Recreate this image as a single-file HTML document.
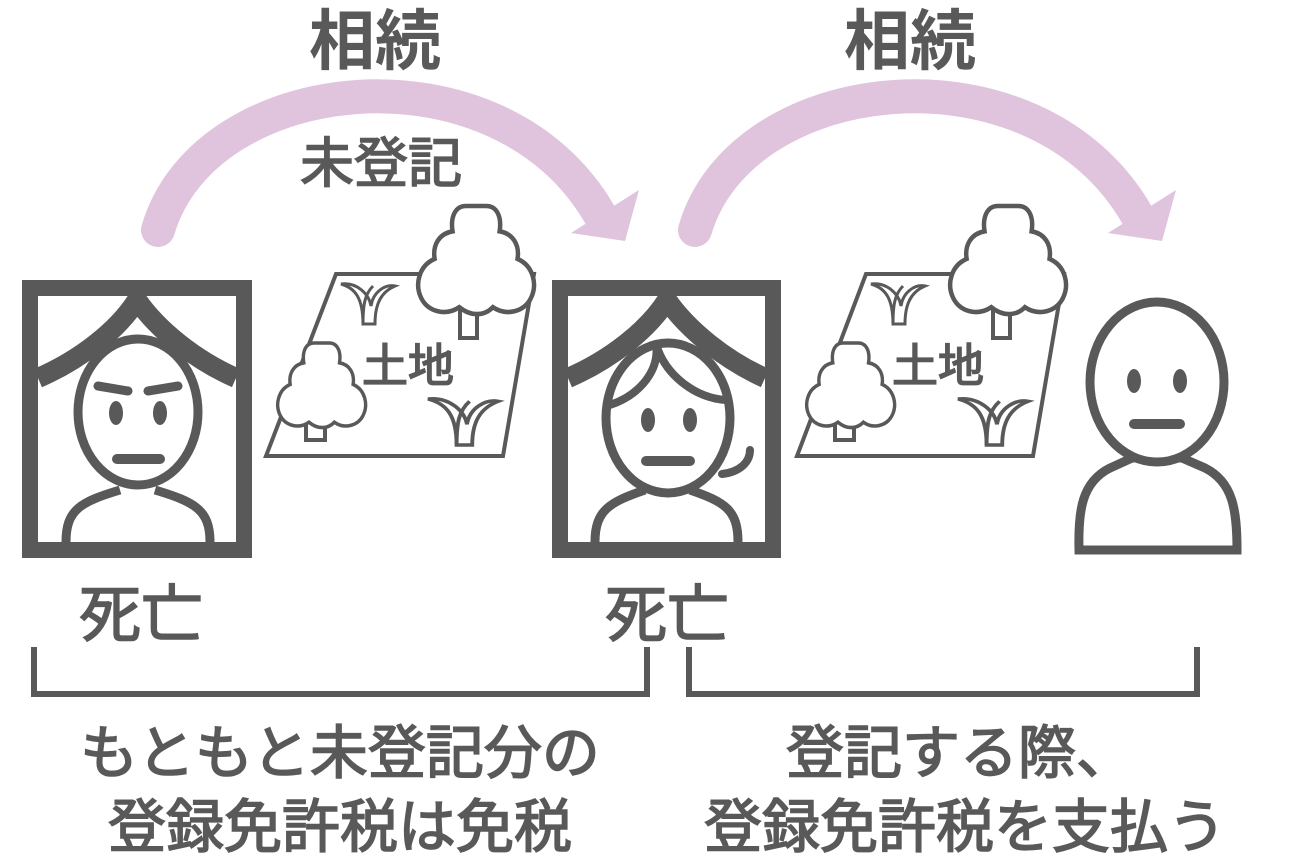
<!DOCTYPE html>
<html><head><meta charset="utf-8"><style>
html,body{margin:0;padding:0;background:#fff;}
svg{display:block;}
text{font-family:"Liberation Sans","Noto Sans CJK JP",sans-serif;fill:#595959;stroke:#595959;stroke-width:1.6;}
text.t{stroke-width:0;}
</style></head><body>
<svg width="1300" height="865" viewBox="0 0 1300 865" xmlns="http://www.w3.org/2000/svg">
<defs>
<g id="tree">
  <path d="M0,0 c-10,0 -14,10 -12,22 c-12,2 -18,12 -16,24 c-14,6 -18,22 -12,34 c6,12 22,16 34,8 c10,8 22,8 30,0 c12,8 28,4 34,-8 c6,-12 2,-28 -12,-34 c2,-12 -4,-22 -16,-24 c2,-12 -2,-22 -12,-22 z" fill="#fff" stroke="#595959" stroke-width="4"/>
</g>
<g id="grass">
  <path d="M0,0 c14,4 22,14 22,40 l12,0 c0,-20 6,-32 20,-38 c-10,-2 -22,6 -24,20 c-2,-12 -14,-24 -30,-22 z" fill="#fff" stroke="#595959" stroke-width="3"/>
  <path d="M22,40 c0,-20 2,-30 10,-38" fill="none" stroke="#595959" stroke-width="3"/>
</g>
</defs>

<!-- titles -->
<text class="t" x="375" y="64" font-size="66" font-weight="bold" text-anchor="middle">相続</text>
<text class="t" x="910" y="64" font-size="66" font-weight="bold" text-anchor="middle">相続</text>
<text x="381" y="182" font-size="54" text-anchor="middle">未登記</text>

<!-- arrows -->
<g fill="none" stroke="#e0c3dc" stroke-width="34" stroke-linecap="round">
  <path d="M158,230 C205,70 500,40 600,215"/>
  <path d="M695,230 C742,70 1037,40 1137,215"/>
</g>
<g fill="#e0c3dc">
  <polygon points="571,233 625,241 639,190"/>
  <polygon points="1108,233 1162,241 1176,190"/>
</g>

<!-- frame 1 -->
<g stroke="#595959" fill="none">
  <rect x="30" y="288" width="214" height="262" stroke-width="16"/>
  <path d="M38,378 C80,360 118,330 137,300 C158,330 195,360 236,378" stroke-width="20"/>
  <path d="M66,542 C66,510 80,502 120,490 M155,490 C195,502 210,510 210,542" stroke-width="9"/>
  <ellipse cx="138" cy="412" rx="60" ry="73" fill="#fff" stroke-width="9"/>
  <path d="M98,386 L128,391 M148,391 L178,386" stroke-width="9" stroke-linecap="round"/>
  <path d="M117,459 L160,459" stroke-width="10" stroke-linecap="round"/>
</g>
<ellipse cx="116" cy="413" rx="7" ry="12" fill="#595959"/>
<ellipse cx="160" cy="413" rx="7" ry="12" fill="#595959"/>

<!-- land 1 -->
<polygon points="336,274 534,274 503,456 266,456" fill="#fff" stroke="#595959" stroke-width="4"/>
<rect x="460" y="296" width="17" height="42" fill="#fff" stroke="#595959" stroke-width="4"/>
<use href="#tree" transform="translate(466,206) scale(1.12,1.15)"/>
<rect x="306" y="410" width="19" height="30" fill="#fff" stroke="#595959" stroke-width="4"/>
<use href="#tree" transform="translate(314,343) scale(0.85,0.9)"/>
<use href="#grass" transform="translate(341,284) scale(1,1)"/>
<use href="#grass" transform="translate(428,399) scale(1.3,1.15)"/>
<text x="408" y="382" font-size="46" text-anchor="middle">土地</text>

<!-- frame 2 -->
<g stroke="#595959" fill="none">
  <rect x="560" y="288" width="213" height="262" stroke-width="16"/>
  <path d="M568,378 C610,360 648,330 667,300 C688,330 725,360 765,378" stroke-width="20"/>
  <path d="M595,542 C595,510 610,502 645,490 M690,490 C725,502 738,510 738,542" stroke-width="9"/>
  <path d="M722,474 C740,472 750,462 750,450" stroke-width="8" stroke-linecap="round"/>
  <ellipse cx="668" cy="418" rx="62" ry="75" fill="#fff" stroke-width="9"/>
  <path d="M610,405 C640,395 660,370 656,344 C665,375 695,398 726,400" stroke-width="8"/>
  <path d="M646,461 L690,461" stroke-width="10" stroke-linecap="round"/>
</g>
<ellipse cx="648" cy="420" rx="7" ry="12" fill="#595959"/>
<ellipse cx="690" cy="420" rx="7" ry="12" fill="#595959"/>

<!-- land 2 -->
<polygon points="866,274 1064,274 1033,456 797,456" fill="#fff" stroke="#595959" stroke-width="4"/>
<rect x="993" y="296" width="17" height="42" fill="#fff" stroke="#595959" stroke-width="4"/>
<use href="#tree" transform="translate(998,206) scale(1.12,1.15)"/>
<rect x="835" y="410" width="19" height="30" fill="#fff" stroke="#595959" stroke-width="4"/>
<use href="#tree" transform="translate(843,343) scale(0.85,0.9)"/>
<use href="#grass" transform="translate(871,284) scale(1,1)"/>
<use href="#grass" transform="translate(958,399) scale(1.3,1.15)"/>
<text x="938" y="382" font-size="46" text-anchor="middle">土地</text>

<!-- person 3 -->
<g stroke="#595959" fill="none" stroke-width="9">
  <path d="M1079,550 C1078,510 1082,482 1110,468 L1132,458 L1182,458 L1205,468 C1233,482 1237,510 1237,550 Z" fill="#fff"/>
  <ellipse cx="1157" cy="382" rx="67" ry="80" fill="#fff"/>
  <path d="M1134,424 L1180,424" stroke-width="10" stroke-linecap="round"/>
</g>
<ellipse cx="1134" cy="381" rx="7" ry="12" fill="#595959"/>
<ellipse cx="1180" cy="381" rx="7" ry="12" fill="#595959"/>

<!-- 死亡 -->
<text x="141" y="636" font-size="62" text-anchor="middle">死亡</text>
<text x="667" y="636" font-size="62" text-anchor="middle">死亡</text>

<!-- brackets -->
<g stroke="#595959" stroke-width="6" fill="none">
  <path d="M34,647 L34,694 L647,694 L647,647"/>
  <path d="M689,647 L689,694 L1197,694 L1197,647"/>
</g>

<!-- bottom text -->
<text x="340" y="773" font-size="58" text-anchor="middle">もともと未登記分の</text>
<text x="340" y="847" font-size="58" text-anchor="middle">登録免許税は免税</text>
<text x="960" y="773" font-size="58" text-anchor="middle">登記する際、</text>
<text x="965" y="847" font-size="58" text-anchor="middle">登録免許税を支払う</text>
</svg>
</body></html>
